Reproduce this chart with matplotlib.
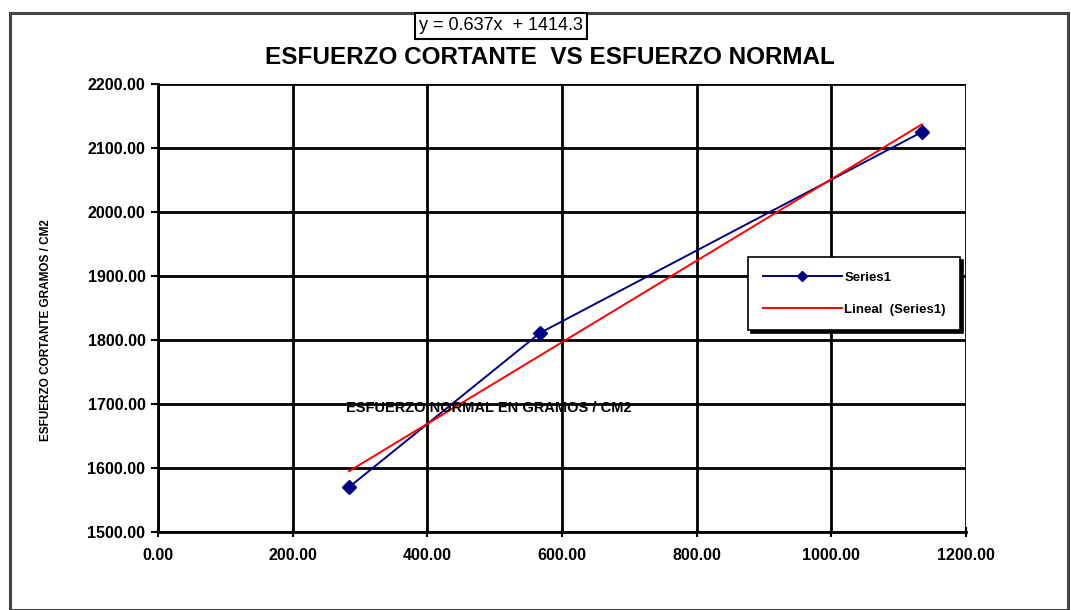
import numpy as np
import matplotlib
matplotlib.use("Agg")
import matplotlib.pyplot as plt
from matplotlib.patches import Rectangle

# data
normal = [283.6, 567.3, 1134.5]        # esfuerzo normal (g/cm2)
cortante = [1570.0, 1811.0, 2125.0]    # esfuerzo cortante (g/cm2)
slope, intercept = 0.637, 1414.3
xticks = [0, 200, 400, 600, 800, 1000, 1200]
yticks = [1500, 1600, 1700, 1800, 1900, 2000, 2100, 2200]

plt.rcParams['font.family'] = ['Liberation Sans Narrow', 'Liberation Sans', 'DejaVu Sans']

W, H = 1071, 610
fig = plt.figure(figsize=(W / 100, H / 100), dpi=100)

# outer chart frame
fig.patches.append(Rectangle((10 / W, 0), 1058 / W, (H - 13) / H, transform=fig.transFigure,
                             fill=False, edgecolor='#444444', linewidth=2.2))

ax = fig.add_axes([158 / W, (H - 532) / H, (966 - 158) / W, (532 - 84) / H])
ax.set_xlim(0, 1200)
ax.set_ylim(1500, 2200)
ax.set_xticks(xticks)
ax.set_yticks(yticks)
ax.set_xticklabels([f"{v:.2f}" for v in xticks], fontsize=11.5, fontweight='bold')
ax.set_yticklabels([f"{v:.2f}" for v in yticks], fontsize=11.5, fontweight='bold')
ax.tick_params(axis='x', direction='inout', length=7, width=1.5, pad=8)
ax.tick_params(axis='y', direction='out', length=5, width=1.5, pad=4)
ax.grid(True, color='black', linewidth=2)
for side in ['top', 'right']:
    ax.spines[side].set_visible(False)
for side in ['left', 'bottom']:
    ax.spines[side].set_linewidth(2)

ax.plot(normal, cortante, color='#000080', linewidth=1.4, marker='D', markersize=7,
        markerfacecolor='#000080', markeredgecolor='#000080', label='Series1', zorder=3)
xs = np.array([normal[0], normal[-1]])
ax.plot(xs, slope * xs + intercept, color='red', linewidth=1.4, label='Lineal  (Series1)', zorder=3)

leg = ax.legend(loc='upper left', bbox_to_anchor=(748 / W, 1 - 257 / H), bbox_transform=fig.transFigure,
                borderaxespad=0, fancybox=False, edgecolor='black', framealpha=1, fontsize=9.5,
                borderpad=1.1, labelspacing=1.5, handlelength=6, handletextpad=0.2,
                markerscale=0.8,
                shadow={'color': 'black', 'alpha': 1})
leg.get_frame().set_linewidth(1.2)
for t in leg.get_texts():
    t.set_fontweight('bold')

fig.text(550 / W, 1 - 57 / H, 'ESFUERZO CORTANTE  VS ESFUERZO NORMAL', ha='center', va='center',
         fontsize=17.5, fontweight='bold')
fig.text(501 / W, 1 - 26 / H, 'y = 0.637x  + 1414.3', ha='center', va='center', fontsize=13,
         bbox=dict(boxstyle='square,pad=0.25', facecolor='white', edgecolor='black', linewidth=1.5))
fig.text(46 / W, 1 - 330 / H, 'ESFUERZO CORTANTE GRAMOS / CM2', rotation=90, ha='center', va='center',
         fontsize=8.5, fontweight='bold')
fig.text(489 / W, 1 - 408 / H, 'ESFUERZO NORMAL EN GRAMOS / CM2', ha='center', va='center',
         fontsize=10.5, fontweight='bold')

fig.savefig('out.png', dpi=100)
